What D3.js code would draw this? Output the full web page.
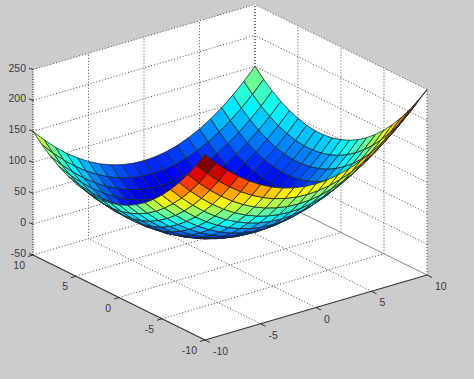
<!DOCTYPE html>
<html>
<head>
<meta charset="utf-8">
<script src="https://d3js.org/d3.v7.min.js"></script>
<style>
    html, body { margin: 0; padding: 0; background: #cccccc; overflow: hidden; }
    svg { display: block; }
    .tick-label { font-family: "Liberation Sans", Arial, sans-serif; font-size: 10.5px; fill: #3a3a3a; }
</style>
</head>
<body>
<script>
// Mesh values
const xValues = [-10, -9, -8, -7, -6, -5, -4, -3, -2, -1, 0, 1, 2, 3, 4, 5, 6, 7, 8, 9, 10];
const yValues = [-10, -9, -8, -7, -6, -5, -4, -3, -2, -1, 0, 1, 2, 3, 4, 5, 6, 7, 8, 9, 10];
// one row per y value, one column per x value
const zRows = [
    [250, 231, 214, 199, 186, 175, 166, 159, 154, 151, 150, 151, 154, 159, 166, 175, 186, 199, 214, 231, 250],
    [226, 207, 190, 175, 162, 151, 142, 135, 130, 127, 126, 127, 130, 135, 142, 151, 162, 175, 190, 207, 226],
    [204, 185, 168, 153, 140, 129, 120, 113, 108, 105, 104, 105, 108, 113, 120, 129, 140, 153, 168, 185, 204],
    [184, 165, 148, 133, 120, 109, 100, 93, 88, 85, 84, 85, 88, 93, 100, 109, 120, 133, 148, 165, 184],
    [166, 147, 130, 115, 102, 91, 82, 75, 70, 67, 66, 67, 70, 75, 82, 91, 102, 115, 130, 147, 166],
    [150, 131, 114, 99, 86, 75, 66, 59, 54, 51, 50, 51, 54, 59, 66, 75, 86, 99, 114, 131, 150],
    [136, 117, 100, 85, 72, 61, 52, 45, 40, 37, 36, 37, 40, 45, 52, 61, 72, 85, 100, 117, 136],
    [124, 105, 88, 73, 60, 49, 40, 33, 28, 25, 24, 25, 28, 33, 40, 49, 60, 73, 88, 105, 124],
    [114, 95, 78, 63, 50, 39, 30, 23, 18, 15, 14, 15, 18, 23, 30, 39, 50, 63, 78, 95, 114],
    [106, 87, 70, 55, 42, 31, 22, 15, 10, 7, 6, 7, 10, 15, 22, 31, 42, 55, 70, 87, 106],
    [100, 81, 64, 49, 36, 25, 16, 9, 4, 1, 0, 1, 4, 9, 16, 25, 36, 49, 64, 81, 100],
    [96, 77, 60, 45, 32, 21, 12, 5, 0, -3, -4, -3, 0, 5, 12, 21, 32, 45, 60, 77, 96],
    [94, 75, 58, 43, 30, 19, 10, 3, -2, -5, -6, -5, -2, 3, 10, 19, 30, 43, 58, 75, 94],
    [94, 75, 58, 43, 30, 19, 10, 3, -2, -5, -6, -5, -2, 3, 10, 19, 30, 43, 58, 75, 94],
    [96, 77, 60, 45, 32, 21, 12, 5, 0, -3, -4, -3, 0, 5, 12, 21, 32, 45, 60, 77, 96],
    [100, 81, 64, 49, 36, 25, 16, 9, 4, 1, 0, 1, 4, 9, 16, 25, 36, 49, 64, 81, 100],
    [106, 87, 70, 55, 42, 31, 22, 15, 10, 7, 6, 7, 10, 15, 22, 31, 42, 55, 70, 87, 106],
    [114, 95, 78, 63, 50, 39, 30, 23, 18, 15, 14, 15, 18, 23, 30, 39, 50, 63, 78, 95, 114],
    [124, 105, 88, 73, 60, 49, 40, 33, 28, 25, 24, 25, 28, 33, 40, 49, 60, 73, 88, 105, 124],
    [136, 117, 100, 85, 72, 61, 52, 45, 40, 37, 36, 37, 40, 45, 52, 61, 72, 85, 100, 117, 136],
    [150, 131, 114, 99, 86, 75, 66, 59, 54, 51, 50, 51, 54, 59, 66, 75, 86, 99, 114, 131, 150]
];

// Tick labels
const xTicks = [-10, -5, 0, 5, 10];
const yTicks = [-10, -5, 0, 5, 10];
const zTicks = [-50, 0, 50, 100, 150, 200, 250];

const width = 474;
const height = 379;
const origin = { x: 205, y: 340 }; // screen position of the front bottom corner

// Each data axis moves a point across the screen by a fixed amount
const xToScreenX = d3.scaleLinear().domain([-10, 10]).range([0, 222]);
const xToScreenY = d3.scaleLinear().domain([-10, 10]).range([0, -65]);
const yToScreenX = d3.scaleLinear().domain([-10, 10]).range([0, -172]);
const yToScreenY = d3.scaleLinear().domain([-10, 10]).range([0, -85]);
const zToScreenY = d3.scaleLinear().domain([-50, 250]).range([0, -185.5]);

function project(x, y, z) {
    return [
        origin.x + xToScreenX(x) + yToScreenX(y),
        origin.y + xToScreenY(x) + yToScreenY(y) + zToScreenY(z)
    ];
}

// How close a point is to the viewer, used to paint the cells back to front
function nearness(x, y, z) {
    return -8.6 * x - 11.1 * y + 121.8 * z;
}

// MATLAB jet colormap
const jet = d3.scaleLinear()
    .domain([0, 1 / 8, 3 / 8, 5 / 8, 7 / 8, 1])
    .range(["#000090", "#0000ff", "#00ffff", "#ffff00", "#ff0000", "#800000"])
    .clamp(true);
const colorT = d3.scaleLinear().domain(d3.extent(zRows.flat())).range([0, 1]);

const closedPath = d3.line().curve(d3.curveLinearClosed);

const svg = d3.select("body").append("svg")
    .attr("width", width)
    .attr("height", height);

function segment(g, a, b, stroke, strokeWidth, dash) {
    g.append("line")
        .attr("x1", project(...a)[0])
        .attr("y1", project(...a)[1])
        .attr("x2", project(...b)[0])
        .attr("y2", project(...b)[1])
        .attr("stroke", stroke)
        .attr("stroke-width", strokeWidth)
        .attr("stroke-dasharray", dash);
}

function drawWalls() {
    const walls = svg.append("g").attr("id", "walls");
    walls.append("path")
        .attr("fill", "#ffffff")
        .attr("d", closedPath([
            project(-10, 10, -50),
            project(-10, -10, -50),
            project(10, -10, -50),
            project(10, -10, 250),
            project(10, 10, 250),
            project(-10, 10, 250)
        ]));

    const dotted = "1 2";
    const gridColor = "#4a4a4a";

    // floor
    xTicks.slice(1, -1).forEach(x => segment(walls, [x, -10, -50], [x, 10, -50], gridColor, 1, dotted));
    yTicks.slice(1, -1).forEach(y => segment(walls, [-10, y, -50], [10, y, -50], gridColor, 1, dotted));

    // back left wall
    xTicks.slice(1).forEach(x => segment(walls, [x, 10, -50], [x, 10, 250], gridColor, 1, dotted));
    zTicks.forEach(z => segment(walls, [-10, 10, z], [10, 10, z], gridColor, 1, dotted));

    // back right wall
    yTicks.forEach(y => segment(walls, [10, y, -50], [10, y, 250], gridColor, 1, dotted));
    zTicks.slice(1).forEach(z => segment(walls, [10, -10, z], [10, 10, z], gridColor, 1, dotted));

    segment(walls, [10, -10, -50], [10, 10, -50], "#8a8a8a", 1, null);
}

function drawSurface() {
    const cells = [];
    for (let j = 0; j < yValues.length - 1; j++) {
        for (let i = 0; i < xValues.length - 1; i++) {
            const corners = [[i, j], [i + 1, j], [i + 1, j + 1], [i, j + 1]]
                .map(([a, b]) => [xValues[a], yValues[b], zRows[b][a]]);
            cells.push({
                corners: corners,
                depth: d3.mean(corners, c => nearness(...c)),
                color: jet(colorT(zRows[j][i])) // flat shading takes the first corner
            });
        }
    }
    cells.sort((a, b) => a.depth - b.depth);

    svg.append("g")
        .attr("id", "surface")
        .selectAll("path")
        .data(cells)
        .join("path")
        .attr("d", d => closedPath(d.corners.map(c => project(...c))))
        .attr("fill", d => d.color)
        .attr("stroke", "#1c2a2a")
        .attr("stroke-width", 0.8)
        .attr("stroke-linejoin", "round");
}

function drawAxes() {
    const axes = svg.append("g").attr("id", "axes");
    const axisColor = "#333333";

    segment(axes, [-10, 10, -50], [-10, -10, -50], axisColor, 1.1, null);
    segment(axes, [-10, -10, -50], [10, -10, -50], axisColor, 1.1, null);
    segment(axes, [-10, 10, -50], [-10, 10, 250], "#222222", 1.2, "1 1.5");

    xTicks.forEach(x => {
        const [px, py] = project(x, -10, -50);
        axes.append("line")
            .attr("x1", px).attr("y1", py)
            .attr("x2", px + 5).attr("y2", py + 2.5)
            .attr("stroke", axisColor);
        axes.append("text")
            .attr("class", "tick-label")
            .attr("x", px + 8)
            .attr("y", py + 15)
            .text(x);
    });

    yTicks.forEach(y => {
        const [px, py] = project(-10, y, -50);
        axes.append("line")
            .attr("x1", px).attr("y1", py)
            .attr("x2", px - 5).attr("y2", py + 1.5)
            .attr("stroke", axisColor);
        axes.append("text")
            .attr("class", "tick-label")
            .attr("x", px - 8)
            .attr("y", py + 14)
            .attr("text-anchor", "end")
            .text(y);
    });

    zTicks.forEach(z => {
        const [px, py] = project(-10, 10, z);
        axes.append("line")
            .attr("x1", px).attr("y1", py)
            .attr("x2", px - 4).attr("y2", py - 1.5)
            .attr("stroke", axisColor);
        axes.append("text")
            .attr("class", "tick-label")
            .attr("x", px - 7)
            .attr("y", py + 2)
            .attr("text-anchor", "end")
            .text(z);
    });
}

drawWalls();
drawSurface();
drawAxes();
</script>
</body>
</html>
